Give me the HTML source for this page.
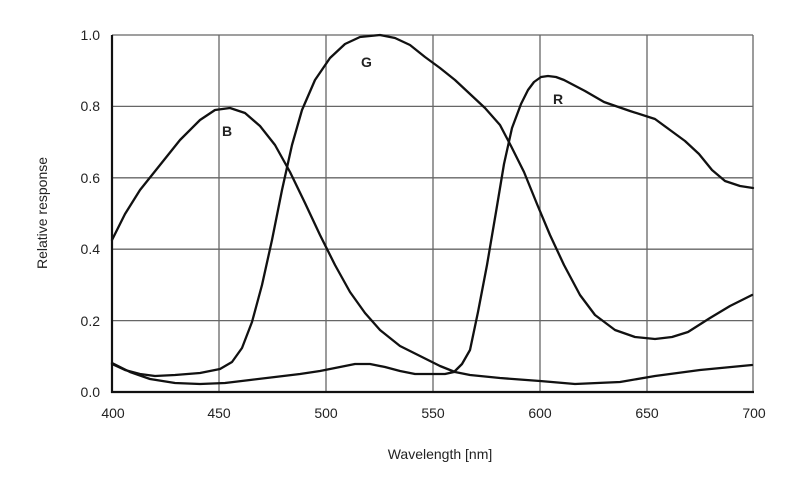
<!DOCTYPE html>
<html><head><meta charset="utf-8"><style>
body{margin:0;background:#fff;}
svg{display:block;font-family:"Liberation Sans",Arial,sans-serif;}
</style></head><body>
<svg width="800" height="492" viewBox="0 0 800 492">
<g stroke="#666" stroke-width="1.3" fill="none">
<line x1="112" y1="35" x2="753" y2="35"/>
<line x1="112" y1="106.4" x2="753" y2="106.4"/>
<line x1="112" y1="177.8" x2="753" y2="177.8"/>
<line x1="112" y1="249.2" x2="753" y2="249.2"/>
<line x1="112" y1="320.6" x2="753" y2="320.6"/>
<line x1="219" y1="35" x2="219" y2="392"/>
<line x1="326" y1="35" x2="326" y2="392"/>
<line x1="433" y1="35" x2="433" y2="392"/>
<line x1="540" y1="35" x2="540" y2="392"/>
<line x1="647" y1="35" x2="647" y2="392"/>
<line x1="753" y1="35" x2="753" y2="392"/>
</g>
<g stroke="#111" stroke-width="2.2" fill="none">
<line x1="112" y1="35" x2="112" y2="393"/>
<line x1="111" y1="392" x2="754" y2="392"/>
</g>
<g stroke="#111" stroke-width="2.3" fill="none" stroke-linejoin="round" stroke-linecap="round">
<!-- B -->
<polyline points="112,240 125,214 140,190 160,165 180,140 200,120 215,110 230,108 245,113 260,126 275,145 290,172 305,203 320,235 335,265 350,292 365,313 380,330 400,346 420,356 440,366 455,372 470,375 500,378 540,381 575,384 620,382 655,376 700,370 752,365"/>
<!-- G -->
<polyline points="112,364 125,370 140,374 155,376 175,375 200,373 220,369 232,362 242,348 252,322 262,285 272,240 282,190 292,145 302,110 315,80 330,58 345,44 360,37 380,35 395,38 410,45 425,57 440,68 455,80 470,94 485,108 500,125 511,146 524,172 537,204 550,235 564,265 580,295 595,315 615,330 635,337 655,339 672,337 688,332 710,318 730,306 752,295"/>
<!-- R -->
<polyline points="112,363 130,372 150,379 175,383 200,384 225,383 250,380 275,377 300,374 320,371 340,367 355,364 370,364 385,367 400,371 415,374 430,374 445,374 454,372 462,364 470,350 478,312 487,265 496,212 504,164 512,128 521,104 528,90 534,82 541,77 548,76 556,77 564,80 585,91 604,102 630,111 655,119 670,130 685,141 699,154 712,170 725,181 740,186 753,188"/>
</g>
<g font-size="14" font-weight="bold" fill="#222">
<text x="222" y="136">B</text>
<text x="361" y="67">G</text>
<text x="553" y="104">R</text>
</g>
<g font-size="14" fill="#222" text-anchor="end">
<text x="100" y="40">1.0</text>
<text x="100" y="111">0.8</text>
<text x="100" y="183">0.6</text>
<text x="100" y="254">0.4</text>
<text x="100" y="326">0.2</text>
<text x="100" y="397">0.0</text>
</g>
<g font-size="14" fill="#222" text-anchor="middle">
<text x="113" y="418">400</text>
<text x="219" y="418">450</text>
<text x="326" y="418">500</text>
<text x="433" y="418">550</text>
<text x="540" y="418">600</text>
<text x="647" y="418">650</text>
<text x="754" y="418">700</text>
<text x="440" y="459">Wavelength [nm]</text>
<text transform="translate(47,213) rotate(-90)">Relative response</text>
</g>
</svg>
</body></html>
